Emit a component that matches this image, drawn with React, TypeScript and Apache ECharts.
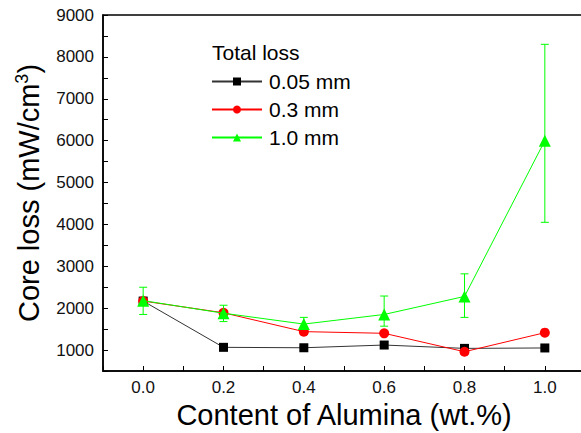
import React, { useEffect, useRef } from "react";
import * as echarts from "echarts";

const xValues = [0.0, 0.2, 0.4, 0.6, 0.8, 1.0];
const thinValues = [2170, 1065, 1055, 1120, 1040, 1050];
const midValues = [2170, 1890, 1440, 1400, 960, 1415];
const thickValues = [2180, 1880, 1620, 1850, 2280, 6000];

const thinErrLow = [2170, 1040, 1030, 1040, 1000, 1030];
const thinErrHigh = [2170, 1090, 1080, 1200, 1080, 1070];
const thickErrLow = [1850, 1680, 1480, 1570, 1780, 4050];
const thickErrHigh = [2500, 2070, 1780, 2290, 2820, 8300];

const seriesNames = ["0.05 mm", "0.3 mm", "1.0 mm"];
const FONT = "Arial, 'Liberation Sans', sans-serif";

export default function App() {
  const ref = useRef<HTMLDivElement>(null);
  useEffect(() => {
    if (!ref.current) return;
    const chart = echarts.init(ref.current, null, { renderer: "svg" });
    const pts = (vals: number[]) => xValues.map((x, i) => [x, vals[i]]);
    const errData = (lo: number[], hi: number[]) => xValues.map((x, i) => [x, lo[i], hi[i]]);
    const errSeries = (lo: number[], hi: number[], color: string, z: number) => ({
      type: "custom",
      silent: true,
      z,
      data: errData(lo, hi),
      encode: { x: 0, y: [1, 2] },
      renderItem: (params: any, api: any) => {
        const x = api.value(0);
        const p1 = api.coord([x, api.value(1)]);
        const p2 = api.coord([x, api.value(2)]);
        const w = 4;
        const style = { stroke: color, lineWidth: 1 };
        return {
          type: "group",
          children: [
            { type: "line", shape: { x1: p1[0], y1: p1[1], x2: p2[0], y2: p2[1] }, style },
            { type: "line", shape: { x1: p1[0] - w, y1: p1[1], x2: p1[0] + w, y2: p1[1] }, style },
            { type: "line", shape: { x1: p2[0] - w, y1: p2[1], x2: p2[0] + w, y2: p2[1] }, style },
          ],
        };
      },
    });
    chart.setOption({
      animation: false,
      textStyle: { fontFamily: FONT },
      grid: {
        left: 103,
        top: 15,
        width: 482,
        height: 356,
        outerBoundsMode: "none",
        containLabel: false,
        show: true,
        borderColor: "#000",
        borderWidth: 1.5,
      },
      title: {
        text: "Total loss",
        left: 207,
        top: 37,
        textStyle: { fontFamily: FONT, fontSize: 21, fontWeight: "normal", color: "#000" },
      },
      legend: {
        data: seriesNames,
        orient: "vertical",
        left: 206,
        top: 66,
        itemGap: 7,
        itemWidth: 50,
        itemHeight: 10,
        textStyle: { fontFamily: FONT, fontSize: 21, color: "#000", padding: [0, 0, 0, 2] },
      },
      xAxis: {
        type: "value",
        min: -0.1,
        max: 1.1,
        interval: 0.1,
        name: "Content of Alumina (wt.%)",
        nameLocation: "middle",
        nameGap: 28,
        nameTextStyle: { fontFamily: FONT, fontSize: 29, color: "#000" },
        axisLine: { show: true, onZero: false, lineStyle: { color: "#000", width: 1.5 } },
        axisTick: { show: true, inside: true, length: 5, lineStyle: { color: "#000" } },
        splitLine: { show: false },
        axisLabel: {
          fontFamily: FONT,
          fontSize: 17,
          color: "#111",
          margin: 8,
          formatter: (v: number) => {
            const r = Math.round(v * 10);
            if (r < 0 || r > 10 || r % 2 !== 0) return "";
            return (r / 10).toFixed(1);
          },
        },
      },
      yAxis: {
        type: "value",
        min: 500,
        max: 9000,
        interval: 500,
        name: "Core loss (mW/cm{sup|3})",
        nameLocation: "middle",
        nameGap: 58,
        nameTextStyle: {
          fontFamily: FONT,
          fontSize: 29,
          color: "#000",
          rich: { sup: { fontFamily: FONT, fontSize: 18, verticalAlign: "top", color: "#000", padding: [0, 0, 14, 0] } },
        },
        axisLine: { show: true, onZero: false, lineStyle: { color: "#000", width: 1.5 } },
        axisTick: { show: true, inside: true, length: 5, lineStyle: { color: "#000" } },
        splitLine: { show: false },
        axisLabel: {
          fontFamily: FONT,
          fontSize: 17,
          color: "#111",
          margin: 9,
          formatter: (v: number) => (v % 1000 === 0 ? String(v) : ""),
        },
      },
      series: [
        errSeries(thinErrLow, thinErrHigh, "#000", 1),
        errSeries(thickErrLow, thickErrHigh, "#00ff00", 1),
        {
          name: seriesNames[0],
          type: "line",
          data: pts(thinValues),
          symbol: "rect",
          symbolSize: 9,
          color: "#000",
          lineStyle: { color: "#333", width: 1 },
          itemStyle: { color: "#000" },
          z: 3,
        },
        {
          name: seriesNames[1],
          type: "line",
          data: pts(midValues),
          symbol: "circle",
          symbolSize: 10,
          color: "#ff0000",
          lineStyle: { color: "#ff0000", width: 1 },
          itemStyle: { color: "#ff0000" },
          z: 4,
        },
        {
          name: seriesNames[2],
          type: "line",
          data: pts(thickValues),
          symbol: "triangle",
          symbolSize: 12,
          color: "#00ff00",
          lineStyle: { color: "#00ff00", width: 1 },
          itemStyle: { color: "#00ff00" },
          z: 5,
        },
      ],
    });
    return () => chart.dispose();
  }, []);
  return <div ref={ref} style={{ width: 581, height: 433, position: "absolute", left: 0, top: 0 }} />;
}
